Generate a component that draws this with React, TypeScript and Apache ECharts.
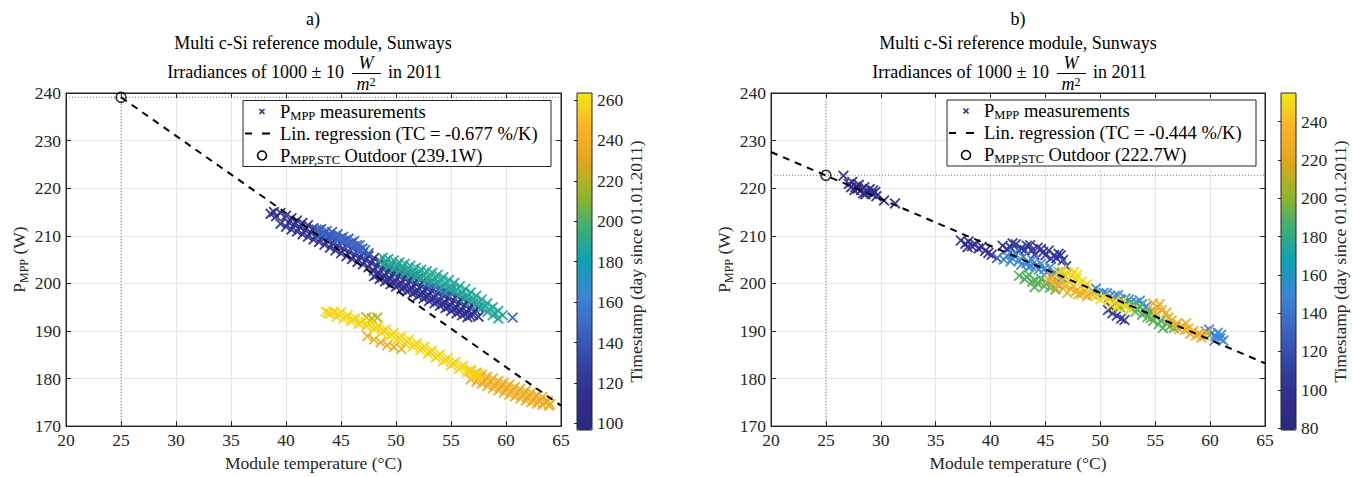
import { useEffect, useRef } from "react";
import * as echarts from "echarts";

const FONT = "'Liberation Serif', 'DejaVu Serif', serif";
const TXT = "#262626";

// Each point: [module temperature (°C), P_MPP (W), day since 01.01.2011]
const aNavy = [
  [38.6, 214.6, 110], [38.9, 215.0, 108], [39.1, 214.1, 112], [39.5, 214.8, 106], [39.5, 212.5, 114],
  [40.0, 214.2, 110], [40.0, 211.9, 116], [40.5, 213.7, 108], [40.5, 211.3, 112],
  [41.0, 213.2, 110], [41.0, 210.9, 114], [41.5, 212.7, 106], [41.5, 210.3, 116],
  [42.0, 212.2, 110], [42.0, 209.8, 112], [42.5, 211.6, 108], [42.5, 209.2, 114],
  [43.0, 211.1, 110], [43.0, 208.7, 116], [43.5, 210.5, 112], [43.5, 208.1, 108],
  [44.0, 209.9, 110], [44.0, 207.5, 114], [44.5, 209.3, 106], [44.5, 206.9, 112],
  [45.0, 208.7, 110], [45.0, 206.3, 116], [45.5, 208.1, 108], [45.5, 205.7, 112],
  [46.0, 207.5, 110], [46.0, 205.1, 114], [46.5, 206.9, 112], [46.5, 204.5, 108],
  [47.0, 206.4, 110], [47.0, 204.0, 116], [47.5, 205.8, 108], [47.5, 203.4, 112],
  [48.0, 205.3, 110], [48.0, 202.7, 114], [48.0, 201.5, 118],
  [48.5, 204.7, 112], [48.5, 202.1, 108], [48.5, 200.9, 116],
  [49.0, 204.1, 110], [49.0, 201.6, 114], [49.0, 200.4, 118],
  [49.5, 203.5, 108], [49.5, 201.0, 112], [49.5, 199.8, 116],
  [50.0, 203.0, 110], [50.0, 200.5, 114], [50.0, 199.3, 118],
  [50.5, 202.5, 112], [50.5, 200.0, 108], [50.5, 198.8, 116],
  [51.0, 202.0, 110], [51.0, 199.5, 114], [51.0, 198.3, 118],
  [51.5, 201.5, 108], [51.5, 199.0, 112], [51.5, 197.8, 116],
  [52.0, 201.0, 110], [52.0, 198.5, 114], [52.0, 197.3, 118],
  [52.5, 200.5, 112], [52.5, 198.0, 108], [52.5, 196.8, 116],
  [53.0, 200.0, 110], [53.0, 197.5, 114], [53.0, 196.3, 118],
  [53.5, 199.5, 108], [53.5, 197.0, 112], [53.5, 195.8, 116],
  [54.0, 199.0, 110], [54.0, 196.5, 114], [54.0, 195.3, 118],
  [54.5, 198.5, 112], [54.5, 196.0, 108], [54.5, 194.8, 116],
  [55.0, 197.9, 110], [55.0, 195.4, 114], [55.0, 194.2, 118],
  [55.5, 197.4, 108], [55.5, 194.9, 112], [55.5, 193.7, 116],
  [56.0, 196.9, 110], [56.0, 194.4, 114], [56.0, 193.3, 118],
  [56.5, 196.3, 112], [56.5, 193.9, 108], [56.5, 192.9, 116],
  [57.0, 195.7, 110], [57.0, 193.4, 114], [57.5, 195.0, 108], [57.5, 193.0, 112],
  [40.25, 212.8, 110], [40.75, 212.3, 112], [41.25, 211.8, 108], [41.75, 211.2, 114],
  [42.25, 210.7, 110], [42.75, 210.1, 112], [43.25, 209.6, 108], [43.75, 209.0, 114],
  [44.25, 208.4, 110], [44.75, 207.8, 112], [45.25, 207.2, 108], [45.75, 206.6, 114],
  [46.25, 206.0, 110], [46.75, 205.5, 112], [47.25, 204.9, 108], [47.75, 204.3, 114],
  [48.25, 203.7, 110], [48.25, 201.8, 116], [48.75, 203.1, 112], [48.75, 201.2, 114],
  [49.25, 202.5, 110], [49.25, 200.7, 116], [49.75, 202.0, 112], [49.75, 200.2, 114],
  [50.25, 201.5, 110], [50.25, 199.7, 116], [50.75, 201.0, 112], [50.75, 199.2, 114],
  [51.25, 200.5, 110], [51.25, 198.7, 116], [51.75, 200.0, 112], [51.75, 198.2, 114],
  [52.25, 199.5, 110], [52.25, 197.7, 116], [52.75, 199.0, 112], [52.75, 197.2, 114],
  [53.25, 198.5, 110], [53.25, 196.7, 116], [53.75, 198.0, 112], [53.75, 196.2, 114],
  [54.25, 197.5, 110], [54.25, 195.6, 116], [54.75, 196.9, 112], [54.75, 195.1, 114],
  [55.25, 196.4, 110], [55.25, 194.6, 116], [55.75, 195.9, 112], [55.75, 194.1, 114],
  [56.25, 195.4, 110], [56.25, 193.6, 116], [56.75, 194.8, 112], [56.75, 193.2, 114], [57.25, 194.3, 110],
];
const aBlue = [
  [42.8, 211.3, 146], [43.2, 211.4, 144], [43.2, 210.4, 148], [43.7, 211.0, 146], [43.7, 210.0, 150],
  [44.2, 210.8, 144], [44.2, 209.8, 148], [44.7, 210.3, 146], [44.7, 209.3, 150],
  [45.2, 209.8, 144], [45.2, 208.8, 148], [45.7, 209.4, 146], [45.7, 208.3, 150],
  [46.2, 208.9, 144], [46.2, 207.8, 148], [46.7, 208.0, 146], [46.7, 207.1, 150],
  [47.2, 207.0, 148], [47.5, 206.3, 146],
  [43.0, 210.8, 146], [43.45, 210.6, 148], [43.95, 210.3, 144], [44.45, 209.9, 146], [44.95, 209.5, 150],
  [45.45, 209.1, 146], [45.95, 208.6, 144], [46.45, 208.0, 148], [46.95, 207.3, 146],
  [52.8, 199.9, 150], [53.4, 199.6, 148], [53.9, 198.6, 152], [54.5, 198.0, 150], [55.0, 198.6, 148],
  [60.6, 192.8, 148],
];
const aTeal = [
  [48.8, 205.4, 188], [48.8, 204.0, 190], [49.3, 205.1, 186], [49.3, 203.5, 188],
  [49.8, 204.8, 188], [49.8, 203.0, 190], [50.3, 204.4, 188], [50.3, 202.6, 186],
  [50.8, 204.1, 188], [50.8, 202.2, 190], [51.3, 203.7, 186], [51.3, 201.8, 188],
  [51.8, 203.3, 188], [51.8, 201.4, 190], [52.3, 202.9, 188], [52.3, 201.0, 186],
  [52.8, 202.6, 188], [52.8, 200.7, 190], [53.3, 202.2, 186], [53.3, 200.3, 188],
  [53.8, 201.8, 188], [53.8, 199.9, 190], [54.3, 201.3, 188], [54.3, 199.4, 186],
  [54.8, 200.7, 188], [54.8, 198.8, 190], [55.3, 200.1, 186], [55.3, 198.2, 188],
  [55.8, 199.4, 188], [55.8, 197.5, 190], [56.3, 198.8, 188], [56.3, 196.9, 186],
  [56.8, 198.1, 188], [56.8, 196.2, 190], [57.3, 197.4, 186], [57.3, 195.5, 188],
  [57.8, 196.6, 188], [57.8, 194.8, 190], [58.3, 195.8, 188], [58.3, 194.0, 186],
  [58.8, 195.0, 188], [58.8, 193.3, 190], [59.3, 194.2, 186], [59.3, 192.6, 188], [59.7, 193.3, 188],
  [49.05, 204.6, 188], [49.55, 204.1, 190], [50.05, 203.7, 186], [50.55, 203.3, 188], [51.05, 202.9, 190],
  [51.55, 202.5, 188], [52.05, 202.1, 186], [52.55, 201.8, 188], [53.05, 201.4, 190], [53.55, 201.0, 188],
  [54.05, 200.6, 186], [54.55, 200.0, 188], [55.05, 199.4, 190], [55.55, 198.7, 188], [56.05, 198.1, 186],
  [56.55, 197.4, 188], [57.05, 196.7, 190], [57.55, 196.0, 188], [58.05, 195.2, 186], [58.55, 194.5, 188], [59.05, 193.7, 190],
];
const aOlive = [[47.3, 192.9, 218], [47.8, 192.6, 220], [48.3, 192.8, 218]];
const aOrange = [
  [47.4, 188.9, 236], [48.0, 188.2, 238], [48.6, 187.6, 236], [49.2, 187.0, 238], [49.8, 186.6, 236], [50.5, 186.2, 238],
  [56.8, 181.6, 236], [56.8, 179.8, 238], [57.3, 181.2, 236], [57.3, 179.3, 240],
  [57.8, 180.8, 236], [57.8, 178.9, 238], [58.3, 180.4, 236], [58.3, 178.4, 240],
  [58.8, 180.0, 236], [58.8, 177.9, 238], [59.3, 179.5, 236], [59.3, 177.5, 240],
  [59.8, 179.1, 236], [59.8, 177.0, 238], [60.3, 178.7, 236], [60.3, 176.6, 240],
  [60.8, 178.2, 236], [60.8, 176.2, 238], [61.3, 177.8, 236], [61.3, 175.8, 240],
  [61.8, 177.4, 236], [61.8, 175.4, 238], [62.3, 177.0, 236], [62.3, 175.0, 240],
  [62.8, 176.5, 236], [62.8, 174.7, 238], [63.3, 176.1, 236], [63.3, 174.5, 240], [63.8, 175.3, 236], [63.9, 174.3, 238],
  [57.05, 180.5, 236], [57.55, 180.0, 238], [58.05, 179.6, 236], [58.55, 179.2, 240], [59.05, 178.7, 236],
  [59.55, 178.3, 238], [60.05, 177.9, 236], [60.55, 177.4, 240], [61.05, 177.0, 236], [61.55, 176.6, 238],
  [62.05, 176.2, 236], [62.55, 175.8, 240], [63.05, 175.4, 236], [63.55, 175.0, 238], [64.0, 174.6, 236],
];
const aYellow = [
  [43.6, 194.1, 258], [44.0, 193.6, 256], [44.4, 194.0, 260], [44.6, 193.0, 256],
  [45.0, 193.9, 258], [45.2, 192.6, 260], [45.6, 193.3, 256], [45.9, 192.1, 260],
  [46.3, 192.7, 258], [46.6, 191.5, 256], [47.0, 192.2, 260], [47.3, 191.0, 256],
  [47.7, 191.7, 260], [48.0, 190.4, 258], [48.4, 191.0, 256], [48.7, 189.6, 260],
  [49.1, 190.3, 256], [49.4, 188.9, 260], [49.8, 189.6, 258], [50.1, 188.1, 256],
  [50.5, 188.9, 260], [50.8, 187.4, 256], [51.2, 188.2, 260], [51.5, 186.7, 258],
  [51.9, 187.4, 256], [52.2, 186.0, 260], [52.6, 186.7, 256], [52.9, 185.2, 260],
  [53.3, 185.9, 258], [53.6, 184.4, 256], [54.0, 185.1, 260], [54.3, 183.6, 256],
  [54.7, 184.3, 260], [55.0, 182.8, 258], [55.4, 183.5, 256], [55.7, 182.0, 260],
  [56.1, 182.7, 256], [56.4, 181.3, 260], [56.8, 181.8, 258], [57.1, 180.6, 256], [57.5, 181.0, 260],
  [43.8, 193.8, 258], [44.8, 193.4, 256], [45.4, 192.9, 260], [46.1, 192.4, 258], [46.8, 191.8, 256],
  [47.5, 191.3, 260], [48.2, 190.7, 258], [48.9, 190.0, 256], [49.6, 189.2, 260], [50.3, 188.5, 258],
  [51.0, 187.8, 256], [51.7, 187.0, 260], [52.4, 186.3, 258], [53.1, 185.5, 256], [53.8, 184.7, 260],
  [54.5, 183.9, 258], [55.2, 183.1, 256], [55.9, 182.3, 260], [56.6, 181.5, 258], [57.3, 180.8, 256],
  [57.4, 180.2, 254],
];

const bNavy = [
  [26.6, 222.6, 84], [27.1, 220.9, 86], [27.4, 221.3, 82], [27.7, 220.3, 88], [28.0, 220.7, 84],
  [28.2, 219.6, 86], [28.5, 220.2, 90], [28.7, 219.2, 84], [29.0, 219.8, 88], [29.2, 218.8, 86],
  [29.5, 219.2, 82], [29.6, 218.3, 88], [28.4, 218.9, 90], [27.6, 219.6, 86], [30.3, 217.4, 84], [31.3, 216.8, 86],
  [27.9, 219.9, 86], [28.6, 218.7, 84], [29.3, 219.5, 88], [27.3, 220.2, 84],
  [37.3, 209.0, 94], [37.7, 208.3, 96], [38.0, 208.8, 92], [38.3, 207.8, 98], [38.6, 208.2, 94],
  [38.9, 207.3, 96], [39.2, 207.7, 92], [39.5, 206.8, 98], [39.8, 206.4, 94], [40.1, 206.0, 96], [37.9, 207.6, 92],
  [41.1, 207.9, 102], [41.8, 207.6, 100], [42.3, 208.2, 104], [42.8, 207.4, 102], [43.3, 207.9, 106],
  [43.8, 207.0, 100], [44.3, 207.5, 104], [44.8, 206.6, 102], [45.3, 206.9, 106], [45.8, 205.9, 100],
  [46.2, 206.2, 104], [46.6, 204.9, 102], [46.9, 203.6, 104], [44.0, 206.0, 100], [45.5, 205.2, 106],
  [41.5, 207.2, 102], [42.0, 208.4, 104], [42.6, 206.8, 100], [43.1, 207.0, 104], [43.6, 208.0, 102],
  [44.6, 207.2, 106], [45.0, 205.9, 102], [46.0, 205.3, 104], [46.4, 205.9, 100],
  [50.7, 194.4, 104], [51.1, 193.7, 102], [51.5, 193.2, 106], [51.9, 192.6, 104], [51.0, 194.9, 100], [52.2, 192.3, 102],
  [40.6, 205.3, 124],
];
const bLightBlue = [
  [41.5, 205.8, 148], [42.0, 205.2, 150], [42.2, 206.3, 152], [42.6, 204.8, 148], [43.0, 205.6, 152],
  [43.3, 204.2, 150], [43.8, 204.9, 146], [44.1, 203.6, 152], [44.6, 204.1, 148], [44.9, 203.0, 150],
  [45.4, 203.3, 152], [45.8, 202.2, 148], [46.2, 202.4, 152], [46.5, 201.2, 150], [43.5, 203.4, 148], [41.2, 205.0, 146],
  [41.8, 204.6, 150], [42.8, 203.9, 148], [43.7, 203.7, 152], [44.4, 202.9, 150], [45.1, 202.3, 148],
  [45.6, 201.7, 150], [46.8, 201.5, 148],
  [49.3, 198.4, 150], [49.8, 197.8, 148], [50.3, 198.0, 152], [50.8, 197.1, 150], [51.3, 197.4, 152],
  [51.8, 196.6, 148], [52.3, 196.8, 152], [52.8, 196.0, 150], [53.3, 195.9, 148], [53.8, 195.6, 150],
  [49.6, 198.9, 150], [50.6, 197.9, 148], [51.6, 197.5, 150], [52.6, 196.6, 148], [53.6, 196.4, 152], [54.2, 195.2, 150],
  [59.6, 189.9, 150], [60.1, 189.4, 152], [60.5, 188.9, 148], [60.9, 188.4, 150], [60.4, 188.0, 152], [61.0, 189.2, 148],
  [59.9, 190.3, 148], [61.2, 188.0, 150], [60.7, 189.6, 152],
];
const bGreen = [
  [42.6, 201.6, 190], [43.1, 200.9, 188], [43.5, 201.8, 192], [43.8, 200.3, 190], [44.3, 199.9, 192],
  [44.6, 200.9, 186], [44.9, 199.4, 190], [45.4, 199.1, 192], [45.9, 198.7, 188], [46.1, 199.7, 190],
  [43.3, 201.3, 188], [44.1, 200.6, 190], [45.1, 200.2, 192], [45.6, 199.6, 188], [44.0, 199.2, 190],
  [52.8, 194.8, 190], [53.2, 194.0, 188], [53.6, 195.1, 192], [53.8, 193.4, 190], [54.3, 192.9, 192],
  [54.5, 193.9, 186], [54.8, 192.1, 190], [55.3, 191.4, 192], [55.0, 193.1, 188], [55.7, 190.6, 190],
  [56.0, 191.6, 192], [56.7, 190.6, 188], [53.0, 195.6, 186], [51.8, 195.0, 190],
  [53.4, 194.6, 188], [54.1, 193.9, 190], [54.6, 192.7, 192], [55.5, 192.1, 188], [56.3, 190.9, 190], [52.3, 195.4, 188],
];
const bOrange = [
  [45.3, 200.8, 228], [45.8, 200.2, 230], [46.3, 199.8, 226], [46.8, 199.4, 228], [47.3, 198.8, 232],
  [47.8, 198.4, 228], [48.3, 197.8, 230], [48.8, 197.3, 226], [46.0, 199.0, 228], [47.0, 198.0, 230], [49.3, 197.6, 228],
  [45.6, 201.3, 228], [46.5, 200.5, 226], [47.5, 199.6, 228], [48.0, 197.7, 230], [48.6, 198.5, 228],
  [54.8, 195.8, 228], [55.2, 195.0, 230], [55.6, 194.4, 226], [56.0, 193.8, 228], [55.0, 194.0, 232], [55.4, 195.6, 228],
  [56.5, 192.2, 228], [57.0, 191.6, 230], [57.5, 191.0, 226], [58.0, 190.5, 228], [58.5, 190.0, 232],
  [59.0, 189.5, 228], [59.5, 189.0, 230], [57.2, 190.4, 226], [58.2, 189.4, 228], [59.2, 188.6, 230], [57.8, 191.6, 228],
  [56.2, 192.8, 228], [56.8, 191.0, 226], [57.7, 190.2, 230], [58.7, 189.0, 228], [59.7, 189.6, 226],
];
const bYellow = [
  [46.5, 202.8, 250], [47.0, 202.2, 252], [47.4, 201.6, 248], [47.8, 201.0, 250], [48.3, 200.4, 252],
  [48.8, 199.8, 250], [47.2, 200.6, 252], [46.8, 201.5, 248], [47.6, 202.4, 250], [46.2, 202.2, 250],
  [47.9, 201.8, 252], [48.5, 199.3, 250],
  [50.3, 197.0, 250], [50.8, 196.6, 252], [51.3, 196.2, 248], [51.8, 195.6, 250], [52.3, 195.0, 252],
  [52.7, 194.5, 250], [51.0, 195.4, 252], [49.6, 197.4, 250], [50.0, 196.6, 252], [51.5, 195.0, 250], [52.0, 196.2, 248],
];

const aPoints = [...aNavy, ...aBlue, ...aTeal, ...aOlive, ...aOrange, ...aYellow];
const bPoints = [...bNavy, ...bLightBlue, ...bGreen, ...bOrange, ...bYellow];

const aRegression = [[25, 239.1], [65, 174.3]];
const bRegression = [[20, 227.6], [65, 183.2]];
const aStc = [25, 239.1];
const bStc = [25, 222.7];
const xRange = [20, 65];
const yRange = [170, 240];
const aColorRange = [96.7, 263.5];
const bColorRange = [79, 255];
const aColorTicks = [100, 120, 140, 160, 180, 200, 220, 240, 260];
const bColorTicks = [80, 100, 120, 140, 160, 180, 200, 220, 240];
const parula = [
  "#2c2784", "#302f8f", "#3443a6", "#3d63c8", "#3a86d8", "#0ca2b2",
  "#3dae74", "#96b523", "#e3a61f", "#fcb424", "#f0e714",
];

const X_SYMBOL =
  "path://M0,1.2L1.2,0L5,3.8L8.8,0L10,1.2L6.2,5L10,8.8L8.8,10L5,6.2L1.2,10L0,8.8L3.8,5Z";

const GRIDS = [
  { left: 66, top: 93, width: 495, height: 337 },
  { left: 771, top: 93, width: 494, height: 337 },
  { left: 577, top: 93, width: 15, height: 337 },
  { left: 1281, top: 93, width: 15, height: 337 },
];

const TICK_FS = 17.5;

function mainXAxis(gridIndex: number) {
  return [
    {
      type: "value", gridIndex, min: xRange[0], max: xRange[1], interval: 5,
      name: "Module temperature (°C)", nameLocation: "middle", nameGap: 26,
      nameTextStyle: { fontFamily: FONT, fontSize: 17.5, color: TXT },
      axisLine: { lineStyle: { color: TXT, width: 1 } },
      axisTick: { inside: true, length: 5, lineStyle: { color: TXT } },
      axisLabel: { fontFamily: FONT, fontSize: TICK_FS, color: TXT, margin: 5 },
      splitLine: { show: true, lineStyle: { color: "#e6e6e6", width: 1 } },
    },
    {
      type: "value", gridIndex, min: xRange[0], max: xRange[1], interval: 5, position: "top",
      axisLine: { lineStyle: { color: TXT, width: 1 } },
      axisTick: { inside: true, length: 5, lineStyle: { color: TXT } },
      axisLabel: { show: false }, splitLine: { show: false },
    },
  ];
}

const yName = "{n|P}{s|MPP}{n| (W)}";
function mainYAxis(gridIndex: number) {
  return [
    {
      type: "value", gridIndex, min: yRange[0], max: yRange[1], interval: 10,
      name: yName, nameLocation: "middle", nameGap: 36,
      nameTextStyle: {
        rich: {
          n: { fontFamily: FONT, fontSize: 17.5, color: TXT, lineHeight: 22 },
          s: { fontFamily: FONT, fontSize: 12, color: TXT, lineHeight: 13, verticalAlign: "bottom" },
        },
      },
      axisLine: { lineStyle: { color: TXT, width: 1 } },
      axisTick: { inside: true, length: 5, lineStyle: { color: TXT } },
      axisLabel: { fontFamily: FONT, fontSize: TICK_FS, color: TXT, margin: 5 },
      splitLine: { show: true, lineStyle: { color: "#e6e6e6", width: 1 } },
    },
    {
      type: "value", gridIndex, min: yRange[0], max: yRange[1], interval: 10, position: "right",
      axisLine: { lineStyle: { color: TXT, width: 1 } },
      axisTick: { inside: true, length: 5, lineStyle: { color: TXT } },
      axisLabel: { show: false }, splitLine: { show: false },
    },
  ];
}

function colorbarYAxis(gridIndex: number, range: number[], ticks: number[]) {
  return {
    type: "value", gridIndex, min: range[0], max: range[1], position: "right",
    name: "Timestamp (day since 01.01.2011)", nameLocation: "middle", nameGap: 34, nameRotate: 90,
    nameTextStyle: { fontFamily: FONT, fontSize: 17.5, color: TXT },
    axisLine: { show: false },
    axisTick: { show: true, inside: true, length: 3, customValues: ticks, lineStyle: { color: TXT } },
    axisLabel: { fontFamily: FONT, fontSize: TICK_FS, color: TXT, margin: 5, customValues: ticks },
    splitLine: { show: false },
  };
}

function titleEls(cx: number, label: string) {
  const base = { fontFamily: FONT, fontSize: 18, fill: "#000" };
  return [
    { type: "text", x: cx, y: 19, style: { ...base, text: label, align: "center", verticalAlign: "middle" } },
    { type: "text", x: cx, y: 43, style: { ...base, text: "Multi c-Si reference module, Sunways", align: "center", verticalAlign: "middle" } },
    { type: "text", x: cx + 31, y: 72, style: { ...base, text: "Irradiances of 1000 ± 10", align: "right", verticalAlign: "middle" } },
    { type: "text", x: cx + 53, y: 63, style: { ...base, text: "W", fontStyle: "italic", align: "center", verticalAlign: "middle" } },
    { type: "line", shape: { x1: cx + 39, y1: 73.5, x2: cx + 68, y2: 73.5 }, style: { stroke: "#000", lineWidth: 1 } },
    {
      type: "text", x: cx + 53, y: 84,
      style: {
        text: "{m|m}{p|2}", align: "center", verticalAlign: "middle",
        rich: {
          m: { fontFamily: FONT, fontSize: 18, fontStyle: "italic", fill: "#000", lineHeight: 17 },
          p: { fontFamily: FONT, fontSize: 12, fill: "#000", lineHeight: 17, verticalAlign: "top", padding: [0, 0, 6, 0] },
        },
      },
    },
    { type: "text", x: cx + 75, y: 72, style: { ...base, text: "in 2011", align: "left", verticalAlign: "middle" } },
  ];
}

function legendEls(x0: number, y0: number, w: number, tc: string, stc: string) {
  const rich = {
    n: { fontFamily: FONT, fontSize: 18.5, fill: "#000", lineHeight: 21 },
    s: { fontFamily: FONT, fontSize: 12.5, fill: "#000", lineHeight: 13, verticalAlign: "bottom" },
  };
  const mx = x0 + 19;
  const r1 = y0 + 11, r2 = y0 + 33, r3 = y0 + 55;
  const z = 100;
  return [
    { type: "rect", z, shape: { x: x0, y: y0, width: w, height: 66 }, style: { fill: "#fff", stroke: TXT, lineWidth: 1 } },
    { type: "line", z, shape: { x1: mx - 2.5, y1: r1 - 2.5, x2: mx + 2.5, y2: r1 + 2.5 }, style: { stroke: "#352a87", lineWidth: 1.6 } },
    { type: "line", z, shape: { x1: mx - 2.5, y1: r1 + 2.5, x2: mx + 2.5, y2: r1 - 2.5 }, style: { stroke: "#352a87", lineWidth: 1.6 } },
    { type: "line", z, shape: { x1: x0 + 2, y1: r2, x2: x0 + 9, y2: r2 }, style: { stroke: "#000", lineWidth: 2 } },
    { type: "line", z, shape: { x1: x0 + 19, y1: r2, x2: x0 + 27, y2: r2 }, style: { stroke: "#000", lineWidth: 2 } },
    { type: "circle", z, shape: { cx: mx, cy: r3, r: 4.5 }, style: { fill: "none", stroke: "#000", lineWidth: 1.6 } },
    { type: "text", z, x: x0 + 37, y: r1, style: { text: "{n|P}{s|MPP}{n| measurements}", rich, verticalAlign: "middle" } },
    { type: "text", z, x: x0 + 37, y: r2, style: { text: `{n|Lin. regression (TC = ${tc} %/K)}`, rich, verticalAlign: "middle" } },
    { type: "text", z, x: x0 + 37, y: r3, style: { text: `{n|P}{s|MPP,STC}{n| Outdoor (${stc}W)}`, rich, verticalAlign: "middle" } },
  ];
}

function colorbarFrame(g: { left: number; top: number; width: number; height: number }) {
  return {
    type: "rect", z: 100,
    shape: { x: g.left, y: g.top, width: g.width, height: g.height },
    style: { fill: "none", stroke: TXT, lineWidth: 1 },
  };
}

export default function App() {
  const ref = useRef<HTMLDivElement>(null);
  useEffect(() => {
    if (!ref.current) return;
    const chart = echarts.init(ref.current, undefined, { renderer: "svg" });
    const scatterBase = {
      type: "scatter", symbol: X_SYMBOL, symbolSize: 11,
      itemStyle: { opacity: 0.92 }, emphasis: { disabled: true }, silent: true,
    };
    const dotted = { color: "#555", width: 0.8, type: [1, 2] };
    const mkLine = (xi: number, yi: number, data: number[][], style: any, z = 3) => ({
      type: "line", xAxisIndex: xi, yAxisIndex: yi, data, symbol: "none", silent: true,
      lineStyle: style, z, animation: false,
    });
    const mkStc = (xi: number, yi: number, p: number[]) => ({
      type: "scatter", xAxisIndex: xi, yAxisIndex: yi, data: [p], symbol: "circle", symbolSize: 10,
      itemStyle: { color: "rgba(0,0,0,0)", borderColor: "#000", borderWidth: 1.6 }, z: 5, silent: true,
    });
    const option: any = {
      animation: false,
      backgroundColor: "#fff",
      grid: GRIDS.map((g, i) => ({ ...g, show: i < 2, borderColor: TXT, borderWidth: 1, backgroundColor: "transparent" })),
      xAxis: [
        ...mainXAxis(0), ...mainXAxis(1),
        { type: "value", gridIndex: 2, show: false, min: 0, max: 1 },
        { type: "value", gridIndex: 3, show: false, min: 0, max: 1 },
      ],
      yAxis: [
        ...mainYAxis(0), ...mainYAxis(1),
        colorbarYAxis(2, aColorRange, aColorTicks),
        colorbarYAxis(3, bColorRange, bColorTicks),
      ],
      visualMap: [
        {
          type: "continuous", seriesIndex: 0, dimension: 2, min: aColorRange[0], max: aColorRange[1],
          inRange: { color: parula }, calculable: false, hoverLink: false,
          left: GRIDS[2].left, top: GRIDS[2].top, itemWidth: GRIDS[2].width, itemHeight: GRIDS[2].height,
          padding: 0, showLabel: false, text: null,
        },
        {
          type: "continuous", seriesIndex: 1, dimension: 2, min: bColorRange[0], max: bColorRange[1],
          inRange: { color: parula }, calculable: false, hoverLink: false,
          left: GRIDS[3].left, top: GRIDS[3].top, itemWidth: GRIDS[3].width, itemHeight: GRIDS[3].height,
          padding: 0, showLabel: false, text: null,
        },
      ],
      series: [
        { ...scatterBase, xAxisIndex: 0, yAxisIndex: 0, data: aPoints, z: 2 },
        { ...scatterBase, xAxisIndex: 2, yAxisIndex: 3, data: bPoints, z: 2 },
        mkLine(0, 0, [[aStc[0], yRange[0]], [aStc[0], yRange[1]]], dotted, 1),
        mkLine(0, 0, [[xRange[0], aStc[1]], [xRange[1], aStc[1]]], dotted, 1),
        mkLine(2, 3, [[bStc[0], yRange[0]], [bStc[0], yRange[1]]], dotted, 1),
        mkLine(2, 3, [[xRange[0], bStc[1]], [xRange[1], bStc[1]]], dotted, 1),
        mkLine(0, 0, aRegression, { color: "#000", width: 2, type: [7, 6] }, 4),
        mkLine(2, 3, bRegression, { color: "#000", width: 2, type: [7, 6] }, 4),
        mkStc(0, 0, aStc),
        mkStc(2, 3, bStc),
      ],
      graphic: [
        ...titleEls(313, "a)"),
        ...titleEls(1018, "b)"),
        ...legendEls(243, 100.5, 308, "-0.677", "239.1"),
        ...legendEls(947, 100, 309, "-0.444", "222.7"),
        colorbarFrame(GRIDS[2]),
        colorbarFrame(GRIDS[3]),
      ],
    };
    chart.setOption(option);
    return () => chart.dispose();
  }, []);
  return (
    <div
      ref={ref}
      style={{ position: "fixed", left: 0, top: 0, width: 1353, height: 477, background: "#fff" }}
    />
  );
}
